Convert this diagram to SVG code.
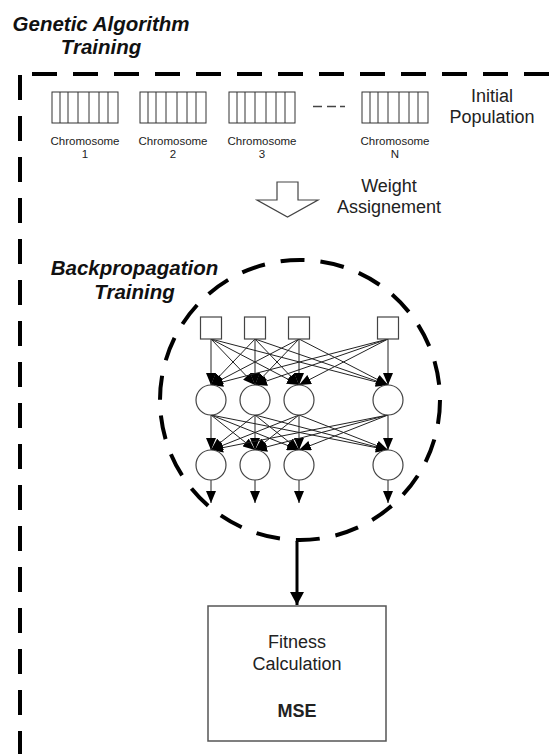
<svg xmlns="http://www.w3.org/2000/svg" width="549" height="754" viewBox="0 0 549 754">
<style>
.t{font-family:"Liberation Sans",Arial,sans-serif;fill:#222}
.title{font-family:"Liberation Sans",Arial,sans-serif;font-weight:bold;font-style:italic;font-size:20.5px;fill:#111}
.lbl{font-size:18px}
.ch{font-size:11.5px}
.frame{fill:none;stroke:#000;stroke-width:4;stroke-dasharray:25 16}
.sq{fill:#fff;stroke:#444;stroke-width:1.2}
.nc{fill:#fff;stroke:#444;stroke-width:1.2}
.cn line{stroke:#222;stroke-width:1;marker-end:url(#ah)}
</style>
<defs>
<marker id="ah" markerUnits="userSpaceOnUse" markerWidth="12" markerHeight="10" refX="12" refY="5" orient="auto">
<path d="M0,0 L12,5 L0,10 z" fill="#000"/>
</marker>
<marker id="ahb" markerUnits="userSpaceOnUse" markerWidth="14" markerHeight="14" refX="13" refY="7" orient="auto">
<path d="M0,0 L13,7 L0,14 z" fill="#000"/>
</marker>
<g id="cellpat" fill="#fff" stroke="#333" stroke-width="1">
<rect x="0" y="0" width="66" height="31"/>
<path d="M8,0V31M16,0V31M26,0V31M37,0V31M47,0V31M56,0V31" fill="none"/>
</g>
</defs>
<rect width="549" height="754" fill="#fff"/>

<g id="ga-title">
<text class="title" x="101" y="31" text-anchor="middle">Genetic Algorithm</text>
<text class="title" x="101" y="54" text-anchor="middle">Training</text>
</g>

<g id="ga-frame">
<line class="frame" x1="32" y1="74" x2="549" y2="74"/>
<line class="frame" x1="20" y1="75" x2="20" y2="754"/>
</g>

<g id="chromosome-1"><use href="#cellpat" x="52" y="92"/><text class="t ch" x="85" y="145" text-anchor="middle">Chromosome</text><text class="t ch" x="85" y="158" text-anchor="middle">1</text></g>
<g id="chromosome-2"><use href="#cellpat" x="140" y="92"/><text class="t ch" x="173" y="145" text-anchor="middle">Chromosome</text><text class="t ch" x="173" y="158" text-anchor="middle">2</text></g>
<g id="chromosome-3"><use href="#cellpat" x="229" y="92"/><text class="t ch" x="262" y="145" text-anchor="middle">Chromosome</text><text class="t ch" x="262" y="158" text-anchor="middle">3</text></g>
<g id="ellipsis"><path d="M313,106.5 h9 M327,106.5 h9 M340,106.5 h5" stroke="#444" stroke-width="1.5"/></g>
<g id="chromosome-n"><use href="#cellpat" x="362" y="92"/><text class="t ch" x="395" y="145" text-anchor="middle">Chromosome</text><text class="t ch" x="395" y="158" text-anchor="middle">N</text></g>

<g id="initial-population">
<text class="t lbl" x="492" y="102" text-anchor="middle">Initial</text>
<text class="t lbl" x="492" y="123" text-anchor="middle">Population</text>
</g>

<g id="weight-assignment">
<polygon points="277,182 298,182 298,200 318,200 287.5,217 257,200 277,200" fill="#fff" stroke="#444" stroke-width="1.2"/>
<text class="t lbl" x="389" y="192" text-anchor="middle">Weight</text>
<text class="t lbl" x="389" y="213" text-anchor="middle">Assignement</text>
</g>

<g id="bp-title">
<text class="title" x="134.5" y="275" text-anchor="middle">Backpropagation</text>
<text class="title" x="134.5" y="299" text-anchor="middle">Training</text>
</g>

<g id="bp-boundary">
<circle cx="300" cy="400" r="140" fill="none" stroke="#000" stroke-width="4" stroke-dasharray="24 16"/>
</g>

<g id="connectors">
<g class="cn">
<line x1="211" y1="339" x2="211" y2="385"/><line x1="211" y1="339" x2="255" y2="385"/><line x1="211" y1="339" x2="299" y2="385"/><line x1="211" y1="339" x2="388" y2="385"/>
<line x1="255" y1="339" x2="211" y2="385"/><line x1="255" y1="339" x2="255" y2="385"/><line x1="255" y1="339" x2="299" y2="385"/><line x1="255" y1="339" x2="388" y2="385"/>
<line x1="299" y1="339" x2="211" y2="385"/><line x1="299" y1="339" x2="255" y2="385"/><line x1="299" y1="339" x2="299" y2="385"/><line x1="299" y1="339" x2="388" y2="385"/>
<line x1="388" y1="339" x2="211" y2="385"/><line x1="388" y1="339" x2="255" y2="385"/><line x1="388" y1="339" x2="299" y2="385"/><line x1="388" y1="339" x2="388" y2="385"/>
<line x1="211" y1="415" x2="211" y2="450"/><line x1="211" y1="415" x2="255" y2="450"/><line x1="211" y1="415" x2="299" y2="450"/><line x1="211" y1="415" x2="388" y2="450"/>
<line x1="255" y1="415" x2="211" y2="450"/><line x1="255" y1="415" x2="255" y2="450"/><line x1="255" y1="415" x2="299" y2="450"/><line x1="255" y1="415" x2="388" y2="450"/>
<line x1="299" y1="415" x2="211" y2="450"/><line x1="299" y1="415" x2="255" y2="450"/><line x1="299" y1="415" x2="299" y2="450"/><line x1="299" y1="415" x2="388" y2="450"/>
<line x1="388" y1="415" x2="211" y2="450"/><line x1="388" y1="415" x2="255" y2="450"/><line x1="388" y1="415" x2="299" y2="450"/><line x1="388" y1="415" x2="388" y2="450"/>
<line x1="211" y1="480" x2="211" y2="503"/><line x1="255" y1="480" x2="255" y2="503"/><line x1="299" y1="480" x2="299" y2="503"/><line x1="388" y1="480" x2="388" y2="503"/>
</g>
<line x1="297" y1="541" x2="297" y2="605" stroke="#000" stroke-width="3" marker-end="url(#ahb)"/>
</g>

<g id="input-layer">
<rect class="sq" x="200.5" y="317" width="21" height="22"/>
<rect class="sq" x="244.5" y="317" width="21" height="22"/>
<rect class="sq" x="288.5" y="317" width="21" height="22"/>
<rect class="sq" x="377.5" y="317" width="21" height="22"/>
</g>
<g id="hidden-layer">
<circle class="nc" cx="211" cy="400" r="15"/><circle class="nc" cx="255" cy="400" r="15"/><circle class="nc" cx="299" cy="400" r="15"/><circle class="nc" cx="388" cy="400" r="15"/>
</g>
<g id="output-layer">
<circle class="nc" cx="211" cy="465" r="15"/><circle class="nc" cx="255" cy="465" r="15"/><circle class="nc" cx="299" cy="465" r="15"/><circle class="nc" cx="388" cy="465" r="15"/>
</g>

<g id="fitness">
<rect x="208" y="606" width="178" height="135" fill="#fff" stroke="#555" stroke-width="1.5"/>
<text class="t lbl" x="297" y="648" text-anchor="middle">Fitness</text>
<text class="t lbl" x="297" y="670" text-anchor="middle">Calculation</text>
<text class="t lbl" x="297" y="717" text-anchor="middle" font-weight="bold" fill="#111">MSE</text>
</g>
</svg>
